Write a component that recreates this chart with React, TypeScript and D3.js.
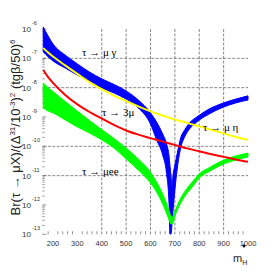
import React from 'react';
import * as d3 from 'd3';

const W = 276;
const H = 276;

// Higgs mass (GeV) samples and log10(Br)
const mBlue = [160, 180, 200, 250, 300, 350, 400, 450, 500, 550, 600, 625, 650, 665, 676, 680, 684, 688, 692, 700, 710, 725, 740, 760, 790, 840, 900, 950, 1000];
const muGammaHi = [-5.93, -6.24, -6.51, -6.89, -7.19, -7.47, -7.70, -7.89, -8.11, -8.42, -8.86, -9.17, -9.58, -9.89, -10.33, -10.67, -11.01, -11.35, -11.01, -10.64, -10.23, -9.68, -9.44, -9.20, -9.00, -8.73, -8.52, -8.39, -8.28];
const muGammaLo = [-6.78, -6.95, -7.09, -7.33, -7.57, -7.77, -8.01, -8.18, -8.39, -8.69, -9.24, -9.78, -10.30, -10.88, -11.93, -12.99, -12.99, -12.68, -12.24, -11.49, -10.74, -10.02, -9.68, -9.41, -9.17, -8.90, -8.66, -8.52, -8.42];

const mLine = [160, 180, 200, 250, 300, 350, 400, 450, 500, 550, 600, 650, 700, 750, 800, 850, 900, 950, 1000];
const muEta = [-6.65, -6.80, -6.94, -7.24, -7.53, -7.81, -8.05, -8.27, -8.45, -8.64, -8.81, -8.95, -9.09, -9.20, -9.32, -9.44, -9.56, -9.68, -9.78];
const threeMu = [-7.40, -7.64, -7.84, -8.25, -8.57, -8.83, -9.05, -9.27, -9.46, -9.60, -9.72, -9.84, -9.95, -10.07, -10.17, -10.27, -10.36, -10.45, -10.53];

const mGreen = [160, 180, 200, 250, 300, 350, 400, 450, 500, 550, 600, 625, 650, 665, 675, 684, 690, 700, 720, 745, 775, 800, 845, 900, 950, 1000];
const muEeHi = [-7.84, -8.00, -8.13, -8.47, -8.80, -9.12, -9.43, -9.73, -10.06, -10.43, -10.88, -11.22, -11.63, -11.93, -12.17, -12.38, -12.41, -12.21, -11.83, -11.49, -11.18, -10.94, -10.71, -10.47, -10.33, -10.23];
const muEeLo = [-8.69, -8.80, -8.86, -9.10, -9.34, -9.55, -9.78, -10.06, -10.43, -10.81, -11.25, -11.56, -11.97, -12.27, -12.48, -12.65, -12.65, -12.38, -12.00, -11.66, -11.35, -11.08, -10.84, -10.60, -10.47, -10.36];

const xTicks = [200, 300, 400, 500, 600, 700, 800, 900, 1000];
const xGrid = [400, 500, 600, 700, 800, 900];
const yExps = [-6, -7, -8, -9, -10, -11, -12, -13];
const yGrid = [-7, -8, -10, -11];

const x = d3.scaleLinear().domain([160, 1000]).range([43.25, 248]);
const y = d3.scaleLog().domain([1e-13, 1e-6]).range([234.3, 29]);
const yl = (v: number) => y(Math.pow(10, v));

function band(ms: number[], hi: number[], lo: number[]) {
  const pts = ms.map((m, i) => ({ m, hi: hi[i], lo: lo[i] }));
  return d3.area<{ m: number; hi: number; lo: number }>()
    .x(d => x(d.m))
    .y0(d => yl(d.lo))
    .y1(d => yl(d.hi))
    .curve(d3.curveMonotoneX)(pts) || '';
}

function line(ms: number[], vals: number[]) {
  return d3.line<number>()
    .x((_, i) => x(ms[i]))
    .y(d => yl(d))
    .curve(d3.curveMonotoneX)(vals) || '';
}

export default function App() {
  const x0 = x.range()[0];
  const x1 = x.range()[1];
  const yTop = y(1e-6);
  const yBot = y(1e-13);

  const minorX = d3.range(180, 1000, 20).filter(m => m % 100 !== 0);
  const minorY: number[] = [];
  for (let e = -13; e < -6; e++) for (let k = 2; k <= 9; k++) minorY.push(k * Math.pow(10, e));

  const grid = { stroke: '#555', strokeWidth: 0.7, strokeDasharray: '3,1.5' };
  const serif = '"Liberation Serif", "DejaVu Serif", serif';
  const sans = '"Liberation Sans", Arial, sans-serif';

  return (
    <svg width={W} height={H} style={{ position: 'absolute', left: 0, top: 0, background: '#fff' }}>
      {/* grid */}
      {xGrid.map(m => (
        <line key={'gx' + m} x1={x(m)} x2={x(m)} y1={yTop} y2={yBot} {...grid} />
      ))}
      {yGrid.map(e => (
        <line key={'gy' + e} x1={x0} x2={x1} y1={yl(e)} y2={yl(e)} {...grid} />
      ))}

      {/* ticks */}
      {minorX.map(m => (
        <line key={'tx' + m} x1={x(m)} x2={x(m)} y1={yBot} y2={yBot - 3} stroke="#666" strokeWidth={0.7} />
      ))}
      {minorY.map((v, i) => (
        <line key={'ty' + i} x1={x0 - 1} x2={x0 + 1.5} y1={y(v)} y2={y(v)} stroke="#777" strokeWidth={0.7} />
      ))}
      {yExps.map(e => (
        <line key={'tY' + e} x1={x0 - 1} x2={x0 + 3} y1={yl(e)} y2={yl(e)} stroke="#666" strokeWidth={0.7} />
      ))}

      {/* curves */}
      <path d={band(mBlue, muGammaHi, muGammaLo)} fill="#0000ff" stroke="#0000ff" strokeWidth={1} />
      <path d={band(mGreen, muEeHi, muEeLo)} fill="#00ff00" stroke="#00ff00" strokeWidth={1} />
      <path d={line(mLine, muEta)} fill="none" stroke="#ffff00" strokeWidth={2} />
      <path d={line(mLine, threeMu)} fill="none" stroke="#ff0000" strokeWidth={2} />

      {/* y tick labels */}
      {yExps.map(e => (
        <g key={'ly' + e} fontFamily={sans} fill="#333">
          <text x={31} y={yl(e) + 3} fontSize={8} textAnchor="end">10</text>
          <text x={32} y={yl(e) - 4} fontSize={5.5}>{e}</text>
        </g>
      ))}

      {/* x tick labels */}
      {xTicks.map(m => (
        <text key={'lx' + m} x={x(m)} y={246} fontSize={7.5} textAnchor="middle" fontFamily={sans} fill="#333">{m}</text>
      ))}
      <circle cx={244} cy={246} r={1.4} fill="#000" />

      {/* axis titles */}
      <text x={233} y={262} fontSize={11} fontFamily={sans} fill="#222">m<tspan fontSize={7} dy={3}>H</tspan></text>
      <text transform="translate(19.5,127.5) rotate(-90)" textAnchor="middle" fontSize={13} fontFamily={sans} fill="#222">
        Br(τ → μX)/(Δ<tspan fontSize={8} dy={-5}>31</tspan><tspan dy={5}>/10</tspan><tspan fontSize={8} dy={-5}>-3</tspan><tspan dy={5}>)</tspan><tspan fontSize={8} dy={-5}>2</tspan><tspan dy={5}> (tgβ/50)</tspan><tspan fontSize={8} dy={-5}>6</tspan>
      </text>

      {/* annotations */}
      <g fontFamily={serif} fontSize={11} fill="#000">
        <text x={82} y={56}>τ → μ γ</text>
        <text x={102} y={116}>τ → 3μ</text>
        <text x={203} y={131}>τ → μ η</text>
        <text x={82} y={175}>τ → μee</text>
      </g>
    </svg>
  );
}
